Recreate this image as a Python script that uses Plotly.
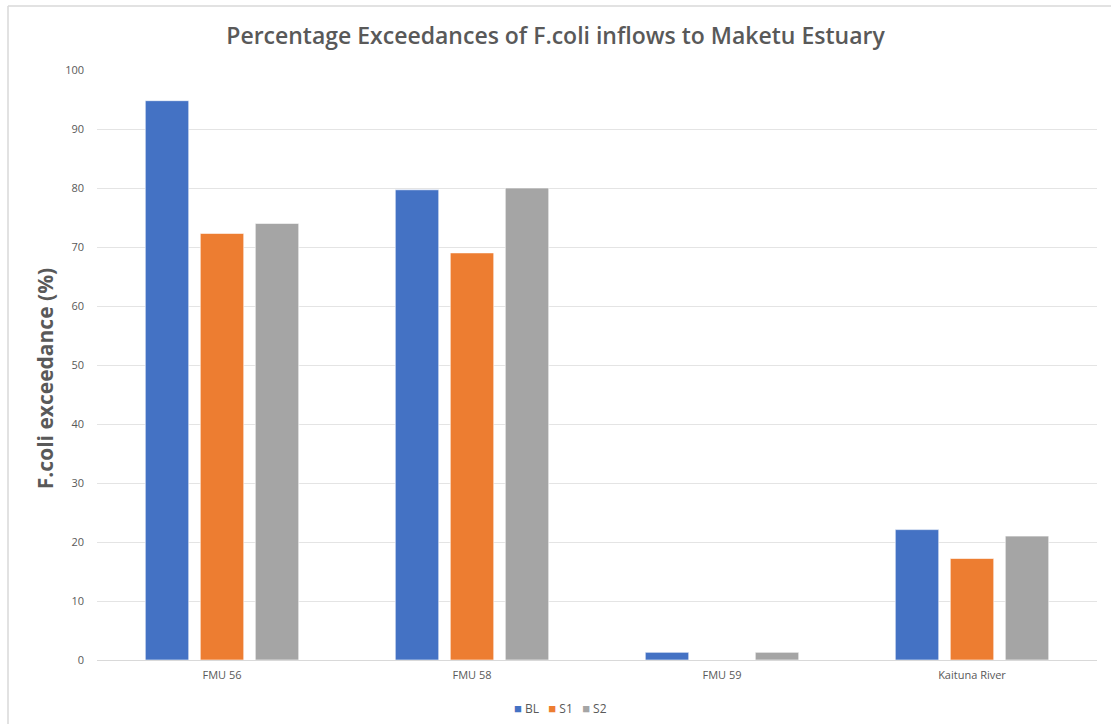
import plotly.graph_objects as go

# F.coli exceedance (%) per inflow, for each scenario
categories = ["FMU 56", "FMU 58", "FMU 59", "Kaituna River"]
bl_values = [94.8, 79.7, 1.3, 22.1]
s1_values = [72.3, 69.0, 0.0, 17.2]
s2_values = [74.0, 80.0, 1.3, 21.0]
y_ticks = [0, 10, 20, 30, 40, 50, 60, 70, 80, 90, 100]

series = [
    ("BL", bl_values, "#4472C4"),
    ("S1", s1_values, "#ED7D31"),
    ("S2", s2_values, "#A5A5A5"),
]

font_family = "Open Sans, Lato, sans-serif"
text_grey = "#595959"

fig = go.Figure()
for name, values, colour in series:
    fig.add_trace(go.Bar(
        x=categories,
        y=values,
        name=name,
        showlegend=False,
        marker=dict(color=colour, line=dict(color="rgba(255,255,255,0.6)", width=1)),
    ))

fig.update_layout(
    width=1111,
    height=724,
    margin=dict(l=97, r=14, t=70, b=64),
    paper_bgcolor="white",
    plot_bgcolor="white",
    barmode="group",
    bargap=0.34,
    bargroupgap=0.21,
    title=dict(
        text="Percentage Exceedances of F.coli inflows to Maketu Estuary",
        x=0.5,
        xanchor="center",
        y=0.95,
        yanchor="middle",
        font=dict(family=font_family, size=23, color=text_grey, weight=600),
    ),
    font=dict(family=font_family, size=11, color=text_grey),
    xaxis=dict(
        showgrid=False,
        showline=True,
        linecolor="#D9D9D9",
        linewidth=1,
        ticks="",
        ticklabelstandoff=5,
        tickfont=dict(size=11, color=text_grey),
    ),
    yaxis=dict(
        range=[0, 100],
        tickvals=y_ticks,
        showgrid=True,
        gridcolor="#E4E4E4",
        gridwidth=1,
        zeroline=False,
        showline=False,
        ticks="",
        ticklabelstandoff=12,
        tickfont=dict(size=11, color=text_grey),
    ),
)

# y-axis title
fig.add_annotation(
    text="F.coli exceedance (%)",
    xref="paper", yref="paper",
    x=-0.052, y=0.476,
    xanchor="center", yanchor="middle",
    textangle=-90,
    showarrow=False,
    font=dict(family=font_family, size=21, color=text_grey, weight="bold"),
)

# compact series key below the axis
key_text = "&nbsp;&nbsp;&nbsp;".join(
    f"<span style='color:{colour};font-size:13px'>■</span>&nbsp;{name}"
    for name, _, colour in series
)
fig.add_annotation(
    text=key_text,
    xref="paper", yref="paper",
    x=0.463, y=-0.0815,
    xanchor="center", yanchor="middle",
    showarrow=False,
    font=dict(family=font_family, size=12, color=text_grey),
)

# chart frame (top and left edges)
frame = dict(color="#D9D9D9", width=1.5)
fig.add_shape(type="line", xref="paper", yref="paper",
              x0=-0.089, x1=1.02, y0=1.1085, y1=1.1085, line=frame)
fig.add_shape(type="line", xref="paper", yref="paper",
              x0=-0.089, x1=-0.089, y0=1.1085, y1=-0.12, line=frame)

fig.write_html("out.html")
